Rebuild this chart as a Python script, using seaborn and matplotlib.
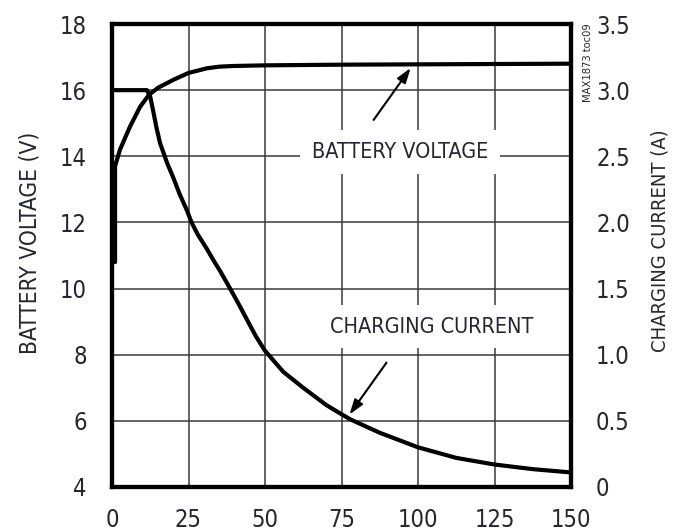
import matplotlib
matplotlib.use("Agg")
import matplotlib.pyplot as plt
import seaborn as sns
import pandas as pd

# ---- data ----
volt_x = [1.0, 1.0, 1.0, 2.6, 5.9, 9.2, 12.1, 15, 20, 25, 31, 35, 39.6, 50, 75, 100, 125, 150]
volt_y = [10.8, 12.8, 13.7, 14.2, 14.9, 15.5, 15.86, 16.07, 16.31, 16.52, 16.66, 16.71, 16.73, 16.75, 16.77, 16.78, 16.79, 16.8]

curr_x = [0.5, 11.4, 12.5, 13.4, 14.5, 15.7, 18, 20, 22, 24.5, 26, 28, 31, 33, 35.4, 38.6, 41, 44, 47, 50, 56, 62.5, 70, 75, 78, 87.5, 100, 112.5, 125, 137.5, 150]
curr_y = [3.0, 3.0, 2.95, 2.85, 2.72, 2.60, 2.45, 2.34, 2.22, 2.09, 2.0, 1.91, 1.80, 1.72, 1.63, 1.50, 1.40, 1.27, 1.14, 1.03, 0.87, 0.75, 0.62, 0.55, 0.51, 0.41, 0.30, 0.22, 0.17, 0.135, 0.11]

x_ticks = [0, 25, 50, 75, 100, 125, 150]
v_ticks = [4, 6, 8, 10, 12, 14, 16, 18]
i_ticks = [0, 0.5, 1.0, 1.5, 2.0, 2.5, 3.0, 3.5]
i_tick_labels = ["0", "0.5", "1.0", "1.5", "2.0", "2.5", "3.0", "3.5"]

sns.set_style("white")
plt.rcParams["font.family"] = ["DejaVu Sans"]
plt.rcParams["font.stretch"] = "condensed"
TXT = "#262630"

fig = plt.figure(figsize=(6.74, 5.31), dpi=100)
ax = fig.add_subplot(111)
fig.subplots_adjust(left=112/674, right=571/674, bottom=(531-487)/531, top=(531-24)/531)
ax2 = ax.twinx()

dfv = pd.DataFrame({"t": volt_x, "v": volt_y})
dfi = pd.DataFrame({"t": curr_x, "i": curr_y})

sns.lineplot(data=dfv, x="t", y="v", ax=ax, color="black", lw=3.0, sort=False,
             estimator=None, zorder=4)
sns.lineplot(data=dfi, x="t", y="i", ax=ax2, color="black", lw=3.0, sort=False,
             estimator=None, zorder=4)

ax.set_xlim(0, 150)
ax.set_ylim(4, 18)
ax2.set_ylim(0, 3.5)
ax.set_xticks(x_ticks)
ax.set_yticks(v_ticks)
ax2.set_yticks(i_ticks)
ax2.set_yticklabels(i_tick_labels)

ax.grid(True, color="#3a3a3a", lw=1.1)
ax2.grid(False)

for a in (ax, ax2):
    for s in a.spines.values():
        s.set_linewidth(3.0)
        s.set_color("black")
    a.tick_params(length=0, labelsize=17, colors=TXT)
ax.tick_params(axis="y", pad=18)
ax.tick_params(axis="x", pad=15)
ax2.tick_params(axis="y", pad=18)

ax.set_xlabel("")
ax.set_ylabel("BATTERY VOLTAGE (V)", fontsize=16.3, color=TXT, va="center")
ax.yaxis.set_label_coords(-0.179, 0.527)
ax2.set_ylabel("CHARGING CURRENT (A)", fontsize=14.5, color=TXT, va="center", rotation=90)
ax2.yaxis.set_label_coords((660-112)/459, 0.533)

bbox = dict(boxstyle="square,pad=0.55", fc="white", ec="none")
ax.text(94, 14.13, "BATTERY VOLTAGE", fontsize=15.5, color=TXT, ha="center", va="center",
        bbox=bbox, zorder=3)
ax.annotate("", xy=(97.6, 16.67), xytext=(85.5, 15.1),
            arrowprops=dict(arrowstyle="-|>,head_length=0.9,head_width=0.3", lw=1.5,
                            color="black", shrinkA=0, shrinkB=0), zorder=5)
ax.text(104.5, 8.85, "CHARGING CURRENT", fontsize=15.5, color=TXT, ha="center", va="center",
        bbox=bbox, zorder=3)
ax.annotate("", xy=(77.6, 6.19), xytext=(89.7, 7.76),
            arrowprops=dict(arrowstyle="-|>,head_length=0.9,head_width=0.3", lw=1.5,
                            color="black", shrinkA=0, shrinkB=0), zorder=5)

fig.text(588/674, 1 - 63/531, "MAX1873 toc09", rotation=90, fontsize=8, color=TXT,
         ha="center", va="center")

fig.savefig("out.png", dpi=100)
